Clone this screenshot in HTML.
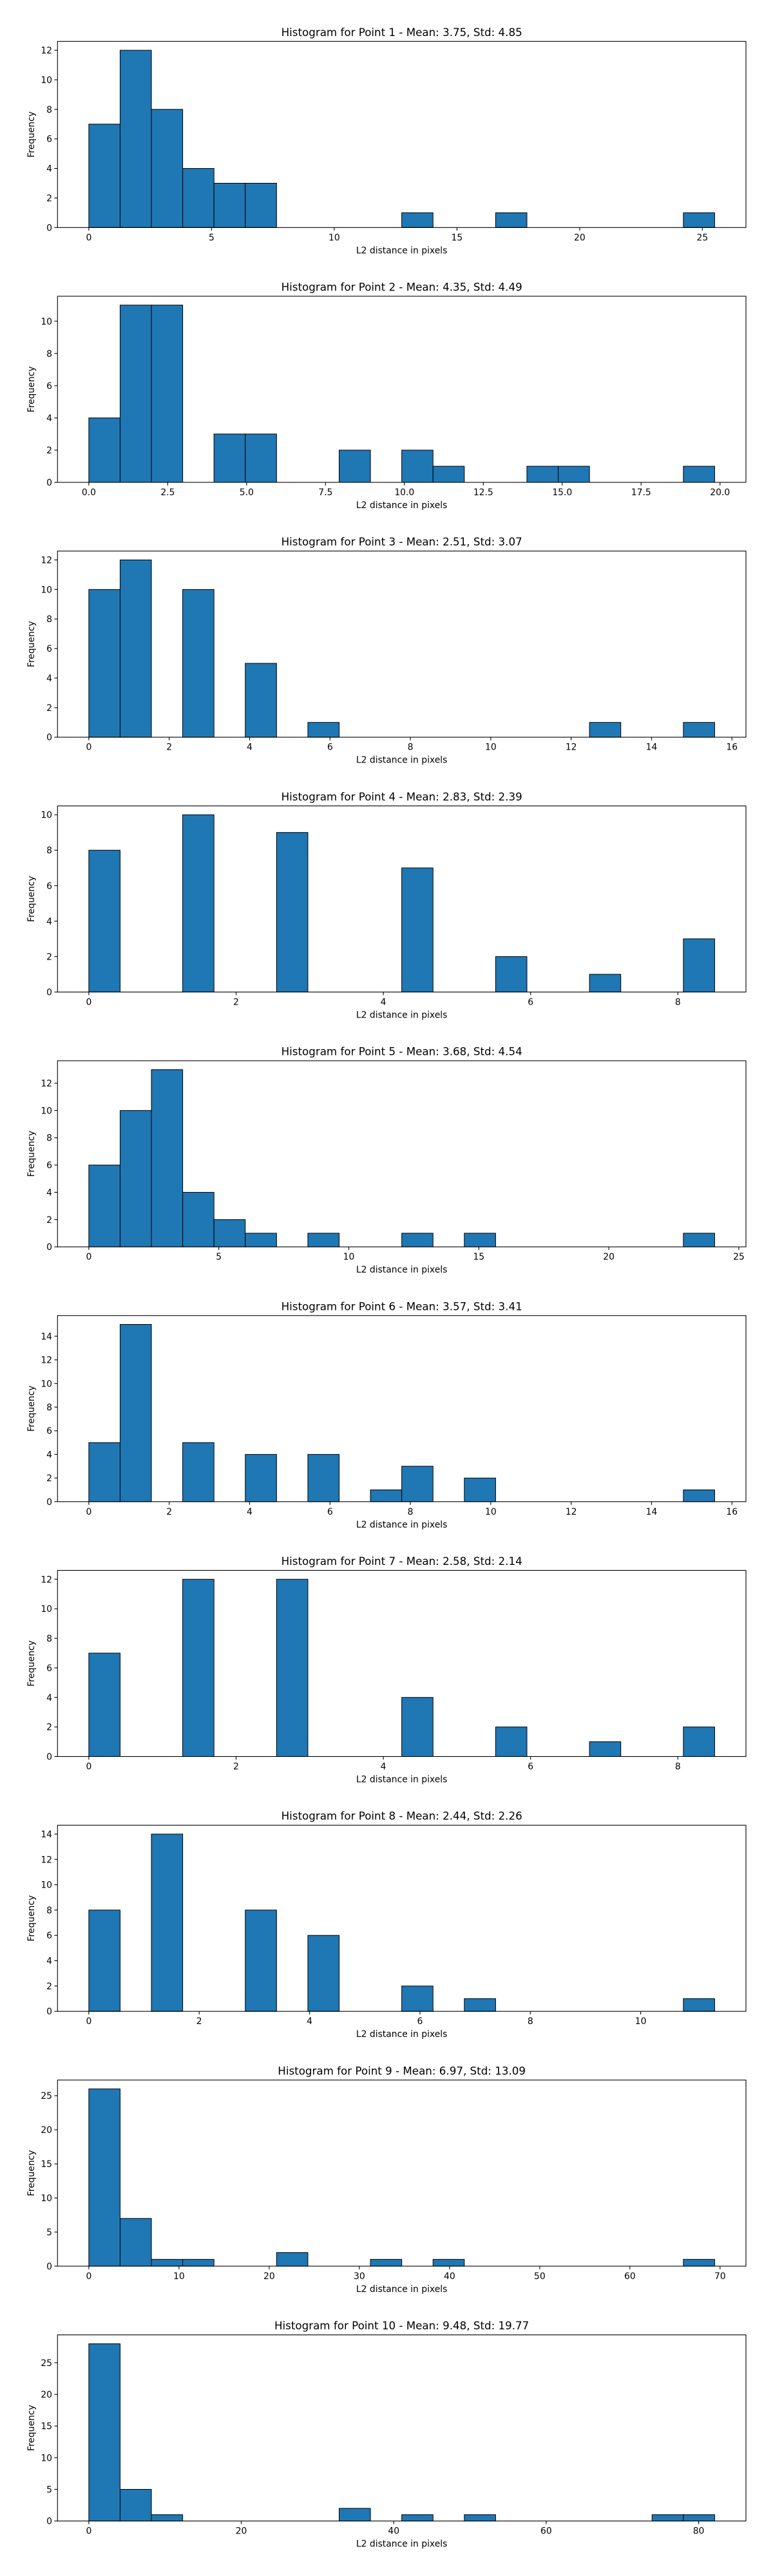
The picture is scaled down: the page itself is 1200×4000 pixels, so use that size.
<!DOCTYPE html>
<html><head><meta charset="utf-8"><style>
html,body{margin:0;padding:0;background:#fff;}
svg{display:block;font-family:"DejaVu Sans","Liberation Sans",sans-serif;}
</style></head>
<body>
<svg id="fig" width="1200" height="4000" viewBox="0 0 1200 4000" xmlns="http://www.w3.org/2000/svg"></svg>
<script>
const titles = [
"Histogram for Point 1 - Mean: 3.75, Std: 4.85",
"Histogram for Point 2 - Mean: 4.35, Std: 4.49",
"Histogram for Point 3 - Mean: 2.51, Std: 3.07",
"Histogram for Point 4 - Mean: 2.83, Std: 2.39",
"Histogram for Point 5 - Mean: 3.68, Std: 4.54",
"Histogram for Point 6 - Mean: 3.57, Std: 3.41",
"Histogram for Point 7 - Mean: 2.58, Std: 2.14",
"Histogram for Point 8 - Mean: 2.44, Std: 2.26",
"Histogram for Point 9 - Mean: 6.97, Std: 13.09",
"Histogram for Point 10 - Mean: 9.48, Std: 19.77"];
const binMin = [0,0,0,0,0,0,0,0,0,0];
const binMax = [25.5,19.83,15.57,8.5,24.07,15.57,8.5,11.34,69.4,82.1];
const counts1 = [7,12,8,4,3,3,0,0,0,0,1,0,0,1,0,0,0,0,0,1];
const counts2 = [4,11,11,0,3,3,0,0,2,0,2,1,0,0,1,1,0,0,0,1];
const counts3 = [10,12,0,10,0,5,0,1,0,0,0,0,0,0,0,0,1,0,0,1];
const counts4 = [8,0,0,10,0,0,9,0,0,0,7,0,0,2,0,0,1,0,0,3];
const counts5 = [6,10,13,4,2,1,0,1,0,0,1,0,1,0,0,0,0,0,0,1];
const counts6 = [5,15,0,5,0,4,0,4,0,1,3,0,2,0,0,0,0,0,0,1];
const counts7 = [7,0,0,12,0,0,12,0,0,0,4,0,0,2,0,0,1,0,0,2];
const counts8 = [8,0,14,0,0,8,0,6,0,0,2,0,1,0,0,0,0,0,0,1];
const counts9 = [26,7,1,1,0,0,2,0,0,1,0,1,0,0,0,0,0,0,0,1];
const counts10 = [28,5,1,0,0,0,0,0,2,0,1,0,1,0,0,0,0,0,1,1];
const xTicks1 = ["0","5","10","15","20","25"];
const xTicks2 = ["0.0","2.5","5.0","7.5","10.0","12.5","15.0","17.5","20.0"];
const xTicks3 = ["0","2","4","6","8","10","12","14","16"];
const xTicks4 = ["0","2","4","6","8"];
const xTicks5 = ["0","5","10","15","20","25"];
const xTicks6 = ["0","2","4","6","8","10","12","14","16"];
const xTicks7 = ["0","2","4","6","8"];
const xTicks8 = ["0","2","4","6","8","10"];
const xTicks9 = ["0","10","20","30","40","50","60","70"];
const xTicks10 = ["0","20","40","60","80"];
const yTicks1 = [0,2,4,6,8,10,12];
const yTicks2 = [0,2,4,6,8,10];
const yTicks3 = [0,2,4,6,8,10,12];
const yTicks4 = [0,2,4,6,8,10];
const yTicks5 = [0,2,4,6,8,10,12];
const yTicks6 = [0,2,4,6,8,10,12,14];
const yTicks7 = [0,2,4,6,8,10,12];
const yTicks8 = [0,2,4,6,8,10,12,14];
const yTicks9 = [0,5,10,15,20,25];
const yTicks10 = [0,5,10,15,20,25];

const allCounts=[counts1,counts2,counts3,counts4,counts5,counts6,counts7,counts8,counts9,counts10];
const allX=[xTicks1,xTicks2,xTicks3,xTicks4,xTicks5,xTicks6,xTicks7,xTicks8,xTicks9,xTicks10];
const allY=[yTicks1,yTicks2,yTicks3,yTicks4,yTicks5,yTicks6,yTicks7,yTicks8,yTicks9,yTicks10];

const NS="http://www.w3.org/2000/svg";
const svg=document.getElementById('fig');
function mk(tag,attrs,parent){const e=document.createElementNS(NS,tag);for(const k in attrs)e.setAttribute(k,attrs[k]);parent.appendChild(e);return e;}

const L=89.3,R=1158,H=289,TOP0=64.3,PER=395.7;
for(let c=0;c<10;c++){
  const g=mk('g',{},svg);
  
  
  const top=TOP0+PER*c, bot=top+H;
  const lo=binMin[c], hi=binMax[c], span=hi-lo;
  const x0=lo-0.05*span, x1=hi+0.05*span;
  const cnt=allCounts[c];
  const ymax=Math.max(...cnt)*1.05;
  const xs=v=>L+(v-x0)/(x1-x0)*(R-L);
  const ys=v=>bot-v/ymax*H;
  const bw=span/cnt.length;
  for(let i=0;i<cnt.length;i++){
    const a=xs(lo+i*bw), b=xs(lo+(i+1)*bw), yt=ys(cnt[i]);
    const r=mk('rect',{x:a,y:yt,width:b-a,height:bot-yt,fill:'#1f77b4',stroke:'#000','stroke-width':1},g);
    
    
  }
  const frame=mk('rect',{x:L,y:top,width:R-L,height:H,fill:'none',stroke:'#000','stroke-width':1.1},g);
  
  
  allX[c].forEach(t=>{
    const x=xs(parseFloat(t));
    mk('line',{x1:x,y1:bot,x2:x,y2:bot+4.9,stroke:'#000','stroke-width':1.1},g);
    const tx=mk('text',{x:x,y:bot+20,'font-size':13.9,'text-anchor':'middle',fill:'#000'},g);
    tx.textContent=t;
    
    
  });
  allY[c].forEach(t=>{
    const y=ys(t);
    mk('line',{x1:L,y1:y,x2:L-4.9,y2:y,stroke:'#000','stroke-width':1.1},g);
    const tx=mk('text',{x:L-8.3,y:y+5,'font-size':13.9,'text-anchor':'end',fill:'#000'},g);
    tx.textContent=String(t);
    
    
  });
  const ti=mk('text',{x:(L+R)/2,y:top-8.5,'font-size':16.7,'text-anchor':'middle',fill:'#000'},g);
  ti.textContent=titles[c];
  
  
  const xl=mk('text',{x:(L+R)/2,y:bot+40,'font-size':13.9,'text-anchor':'middle',fill:'#000'},g);
  xl.textContent='L2 distance in pixels';
  
  
  const yl=mk('text',{x:0,y:0,'font-size':13.9,'text-anchor':'middle',fill:'#000',transform:'translate(53,'+(top+H/2)+') rotate(-90)'},g);
  yl.textContent='Frequency';
  
  
}
</script>
</body></html>
